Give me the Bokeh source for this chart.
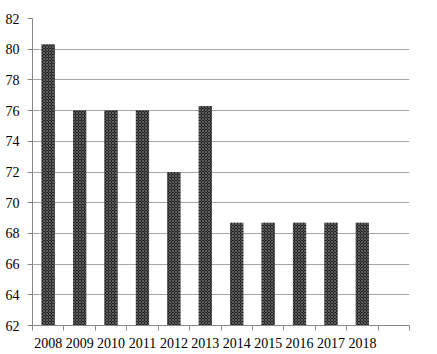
from bokeh.plotting import figure
from bokeh.models import FixedTicker, Range1d, ColumnDataSource
from bokeh.embed import file_html
from bokeh.resources import INLINE

years = ["2008", "2009", "2010", "2011", "2012", "2013", "2014", "2015", "2016", "2017", "2018"]
values = [80.3, 76.0, 76.0, 76.0, 72.0, 76.3, 68.7, 68.7, 68.7, 68.7, 68.7]
y_ticks = [62, 64, 66, 68, 70, 72, 74, 76, 78, 80, 82]
n_slots = len(years) + 1  # one empty slot at the end

xs = [i + 0.5 for i in range(len(years))]
src = ColumnDataSource(dict(x=xs, top=values, bottom=[62] * len(values)))

p = figure(width=437, height=354, output_backend="svg", toolbar_location=None,
           x_range=Range1d(0, n_slots), y_range=Range1d(62, 82),
           min_border_left=32, min_border_right=28, min_border_top=18, min_border_bottom=29)
p.outline_line_color = None
p.background_fill_color = "white"

p.vbar(x="x", top="top", bottom="bottom", width=0.42, source=src,
       fill_color="#232323", line_color=None,
       hatch_pattern="diagonal_cross", hatch_color="#5e5e5e", hatch_scale=3, hatch_weight=1)

font = "Liberation Serif"

xa = p.xaxis[0]
xa.ticker = FixedTicker(ticks=xs, minor_ticks=list(range(n_slots + 1)))
xa.major_label_overrides = {x: y for x, y in zip(xs, years)}
xa.major_tick_out = 0
xa.major_tick_in = 0
xa.minor_tick_out = 5
xa.minor_tick_in = 0
xa.minor_tick_line_color = "#888888"
xa.axis_line_color = "#888888"
xa.major_label_text_font = font
xa.major_label_text_font_size = "14px"
xa.major_label_text_color = "black"
xa.major_label_standoff = 7

ya = p.yaxis[0]
ya.ticker = FixedTicker(ticks=y_ticks, minor_ticks=[])
ya.major_tick_out = 5
ya.major_tick_in = 0
ya.major_tick_line_color = "#888888"
ya.axis_line_color = "#888888"
ya.major_label_text_font = font
ya.major_label_text_font_size = "14px"
ya.major_label_text_color = "black"
ya.major_label_standoff = 8

p.xgrid.visible = False
p.ygrid.grid_line_color = "#a6a6a6"
p.ygrid.grid_line_width = 1

open("out.html", "w").write(file_html(p, INLINE))
